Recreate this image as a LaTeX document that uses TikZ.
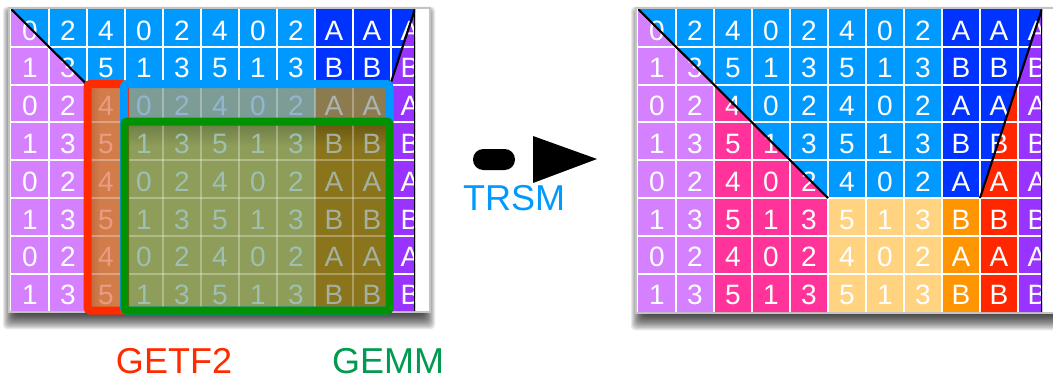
\documentclass[tikz,border=0pt]{standalone}
\usepackage{fontspec}
\setmainfont{Liberation Sans}
\definecolor{cblue}{HTML}{0099FF}
\definecolor{cdblue}{HTML}{0033FF}
\definecolor{cpurple}{HTML}{D580FF}
\definecolor{cviolet}{HTML}{9933FF}
\definecolor{cpink}{HTML}{FF3399}
\definecolor{clorange}{HTML}{FFD37F}
\definecolor{corange}{HTML}{FF9500}
\definecolor{cred}{HTML}{FF2600}
\definecolor{boxred}{HTML}{FF2A00}
\definecolor{boxgreen}{HTML}{009200}
\definecolor{lblgreen}{HTML}{009A50}
\definecolor{fred}{HTML}{D27C4A}
\definecolor{fredleft}{HTML}{B8663A}
\definecolor{fblue}{HTML}{7E9C96}
\definecolor{fblueb}{HTML}{8C7B4E}
\definecolor{fgreen}{HTML}{8F9D5A}
\definecolor{fgreenb}{HTML}{8A741C}
\definecolor{fgreentop}{HTML}{6E7E46}
\definecolor{fgreenbtop}{HTML}{6A5812}
\definecolor{tred}{HTML}{E89C84}
\definecolor{tblue}{HTML}{92B6D0}
\definecolor{tblueb}{HTML}{AAB4B4}
\definecolor{tgreen}{HTML}{9EC0B2}
\definecolor{tgreenb}{HTML}{A3B2A0}
\definecolor{framegray}{HTML}{C4C4C4}
\newcommand\labtxt[2]{\ifodd#1\relax\ifcase#2\relax 1\or 3\or 5\or 1\or 3\or 5\or 1\or 3\or B\or B\or B\fi\else\ifcase#2\relax 0\or 2\or 4\or 0\or 2\or 4\or 0\or 2\or A\or A\or A\fi\fi}
\newcommand\celltext[5]{\node[celltxt,text=#5] (#1-#3-#4) at ({#2+(#4+0.5)*38},{9+#3*37.8+31}) {\labtxt{#3}{#4}};}
\newcommand\dropshadow[4]{\foreach \ii in {0,...,13}{\fill[black,opacity=0.085,rounded corners=3pt] ({#1+8-\ii},{#2+10-\ii*0.8}) rectangle ({#3-8+\ii},{#4+1+1.25*\ii});}}
\begin{document}
\begin{tikzpicture}[x=0.75pt,y=-0.75pt,
  celltxt/.style={font=\fontsize{21}{21}\selectfont, anchor=base, inner sep=0pt},
  gridline/.style={white, line width=1.5pt},
  fadegrid/.style={white, opacity=0.3, line width=1.5pt},
  edgeline/.style={black, line width=1.6pt},
  frame/.style={fill=white, draw=framegray, line width=1.5pt},
  box/.style={line width=6pt, rounded corners=2pt},
  lbl/.style={font=\fontsize{27}{27}\selectfont, inner sep=0pt}
]
\useasboundingbox (0,0) rectangle (1053,379);
\clip (0,0) rectangle (1053,379);

% ---------------- left matrix ----------------
\dropshadow{8}{7}{430}{312}
\draw[frame] (9,7.5) rectangle (430,312);
\begin{scope}
  \clip (11,9) rectangle (415,311);
  \fill[cblue] (11,9) rectangle (315,311);
  \fill[cpurple] (11,9) -- (11,311) -- (87,311) -- (87,84.6) -- cycle;
  \fill[cdblue] (315,9) -- (415,9) -- (391,82.2) -- (391,311) -- (315,311) -- cycle;
  \fill[cviolet] (415,9) -- (391,82.2) -- (391,311) -- (415,311) -- cycle;
  \foreach \k in {1,...,10} \draw[gridline] ({11+38*\k},9) -- ({11+38*\k},311);
  \foreach \k in {1,...,7} \draw[gridline] (11,{9+37.8*\k}) -- (415,{9+37.8*\k});
  % overlay fills
  \fill[fred] (87,84.6) rectangle (125,311);
  \shade[left color=fredleft, right color=fred] (87,84.6) rectangle (100,311);
  \fill[fblue] (125,84.6) rectangle (315,122.4);
  \fill[fblueb] (315,84.6) rectangle (391,122.4);
  \fill[fgreen] (125,122.4) rectangle (315,311);
  \fill[fgreenb] (315,122.4) rectangle (391,311);
  \shade[top color=fgreentop, bottom color=fgreen] (125,124) rectangle (315,146);
  \shade[top color=fgreenbtop, bottom color=fgreenb] (315,124) rectangle (391,146);
  \foreach \k in {3,...,9} \draw[fadegrid] ({11+38*\k},84.6) -- ({11+38*\k},311);
  \foreach \k in {3,...,7} \draw[fadegrid] (87,{9+37.8*\k}) -- (391,{9+37.8*\k});
  % texts
  \foreach \r in {0,1} {\foreach \c in {0,...,10} {\celltext{L}{11}{\r}{\c}{white}}}
  \foreach \r in {2,...,7} {\foreach \c in {0,1,10} {\celltext{L}{11}{\r}{\c}{white}}}
  \foreach \r in {2,...,7} {\celltext{L}{11}{\r}{2}{tred}}
  \foreach \c in {3,...,7} {\celltext{L}{11}{2}{\c}{tblue}}
  \foreach \c in {8,9} {\celltext{L}{11}{2}{\c}{tblueb}}
  \foreach \r in {3,...,7} {\foreach \c in {3,...,7} {\celltext{L}{11}{\r}{\c}{tgreen}}}
  \foreach \r in {3,...,7} {\foreach \c in {8,9} {\celltext{L}{11}{\r}{\c}{tgreenb}}}
  \draw[edgeline] (11,9) -- (87,84.6);
  \draw[edgeline] (415,9) -- (391,82.2);
  \draw[edgeline] (415,9) -- (415,311);
\end{scope}
\draw[box, draw=boxred] (87.5,84) rectangle (125,310.5);
\draw[box, draw=cblue] (124,84) rectangle (389.5,310.5);
\draw[box, draw=boxgreen] (124.5,121.5) rectangle (389.5,310.5);

% ---------------- right matrix ----------------
\dropshadow{636}{7}{1070}{313}
\draw[frame] (636,7.5) rectangle (1070,313);
\begin{scope}
  \clip (638,9) rectangle (1042,312);
  \fill[cblue] (638,9) -- (942,9) -- (942,198) -- (828,198) -- cycle;
  \fill[cpurple] (638,9) -- (638,312) -- (714,312) -- (714,84.6) -- cycle;
  \fill[cpink] (714,84.6) -- (714,312) -- (828,312) -- (828,198) -- cycle;
  \fill[clorange] (828,198) rectangle (942,312);
  \fill[corange] (942,198) rectangle (980,312);
  \fill[cdblue] (942,9) -- (1042,9) -- (980,198) -- (942,198) -- cycle;
  \fill[cred] (980,198) -- (1018,82.2) -- (1018,312) -- (980,312) -- cycle;
  \fill[cviolet] (1042,9) -- (1018,82.2) -- (1018,312) -- (1042,312) -- cycle;
  \foreach \k in {1,...,10} \draw[gridline] ({638+38*\k},9) -- ({638+38*\k},312);
  \foreach \k in {1,...,7} \draw[gridline] (638,{9+37.8*\k}) -- (1042,{9+37.8*\k});
  \foreach \r in {0,...,7} {\foreach \c in {0,...,10} {\celltext{R}{638}{\r}{\c}{white}}}
  \draw[edgeline] (638,9) -- (828,198);
  \draw[edgeline] (1042,9) -- (980,198);
  \draw[edgeline] (1042,9) -- (1042,312);
\end{scope}

% ---------------- arrow and labels ----------------
\fill[black, rounded corners=7.8pt] (473,149) rectangle (515,170);
\fill[black] (533,136) -- (533,183) -- (597,159) -- cycle;
\node[lbl, text=cblue] (trsm) at (514,198) {TRSM};
\node[lbl, text=boxred] (getf2) at (174,361) {GETF2};
\node[lbl, text=lblgreen] (gemm) at (388,361) {GEMM};
\end{tikzpicture}
\end{document}
